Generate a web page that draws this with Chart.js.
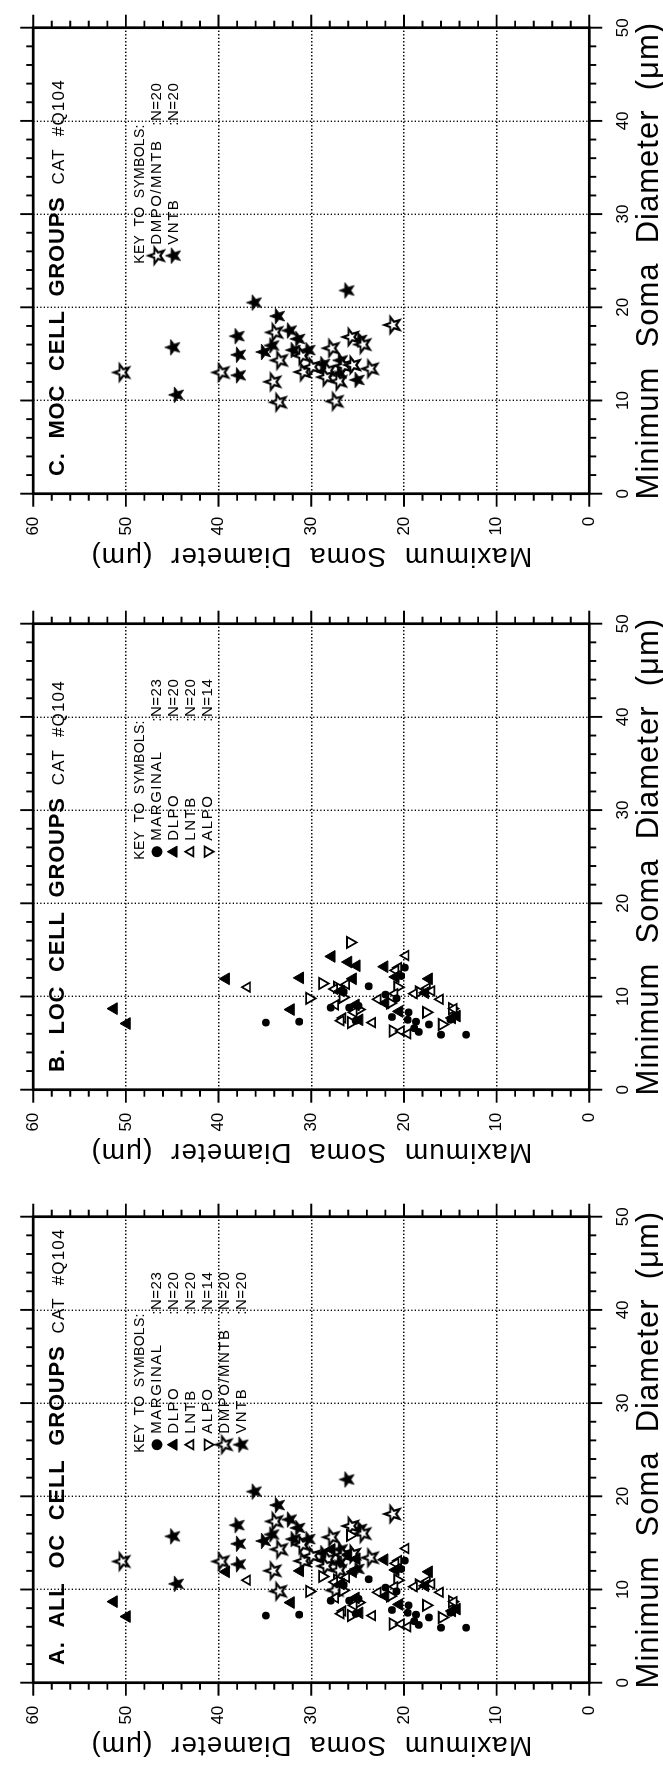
<!DOCTYPE html>
<html>
<head>
<meta charset="utf-8">
<title>OC cell groups - soma diameters</title>
<script src="https://cdn.jsdelivr.net/npm/chart.js@4.4.1/dist/chart.umd.min.js"></script>
<style>
  html, body { margin: 0; padding: 0; background: #fff; }
  body { width: 663px; height: 1766px; overflow: hidden; position: relative; }
  /* the figure is laid out landscape and turned a quarter turn, like the printed page */
  #sheet { position: absolute; left: 0; top: 0; width: 1766px; height: 663px;
           transform-origin: 0 0; transform: translateY(1766px) rotate(-90deg); background: #fff; }
  #sheet canvas { position: absolute; top: 0; }
</style>
</head>
<body>
<div id="sheet">
  <canvas id="panelA" width="592" height="663" style="left:0px"></canvas>
  <canvas id="panelB" width="592" height="663" style="left:593px"></canvas>
  <canvas id="panelC" width="592" height="663" style="left:1189px"></canvas>
</div>
<script>
// Soma diameters in um: *_MIN = minimum diameter (x), *_MAX = maximum diameter (y)
const MARGINAL_MIN = [7.2, 7.3, 8.8, 8.8, 11.1, 13.1, 7.8, 7.5, 7.3, 6.6, 6.2, 7.0, 5.9, 5.9, 7.5, 9.8, 9.0, 10.5, 12.2, 8.3, 10.2, 7.9, 7.4];
const MARGINAL_MAX = [34.9, 31.3, 27.9, 25.9, 23.8, 19.9, 21.3, 19.6, 18.7, 18.9, 18.4, 17.3, 16.0, 13.3, 15.0, 20.8, 24.9, 26.5, 20.3, 19.5, 22.0, 14.5, 25.2];

const DLPO_MIN = [8.7, 7.1, 11.9, 8.6, 12.0, 14.3, 13.7, 13.3, 11.9, 7.5, 13.2, 12.1, 11.9, 10.4, 7.9, 8.4, 9.1, 10.6, 9.3, 7.7];
const DLPO_MAX = [51.3, 49.9, 39.2, 32.2, 31.2, 27.8, 26.0, 25.1, 25.5, 24.8, 22.1, 20.9, 17.3, 17.7, 14.3, 20.5, 25.2, 26.8, 22.0, 14.8];

const LNTB_MIN = [11.0, 14.4, 13.1, 10.3, 9.7, 7.7, 7.2, 6.3, 9.1, 10.8, 11.3, 8.3, 10.3, 12.8, 10.9, 8.7, 6.0, 9.7, 10.6, 7.4];
const LNTB_MAX = [36.9, 19.8, 20.6, 18.9, 16.1, 26.6, 23.4, 20.3, 27.4, 27.5, 26.2, 25.4, 21.0, 20.9, 17.5, 14.6, 19.6, 22.8, 17.0, 26.8];

const ALPO_MIN = [11.4, 15.8, 9.8, 8.3, 8.7, 7.0, 6.3, 7.2, 11.0, 9.3, 11.0, 9.9, 10.5, 8.6];
const ALPO_MAX = [28.8, 25.8, 30.2, 17.6, 14.8, 15.9, 21.2, 25.7, 27.2, 21.5, 20.7, 26.6, 18.4, 24.9];

const DMPO_MIN = [13.0, 13.0, 17.3, 14.3, 12.0, 9.8, 13.05, 13.6, 15.6, 12.05, 13.7, 13.8, 9.9, 13.4, 16.8, 18.1, 16.0, 13.2, 14.8, 12.5];
const DMPO_MAX = [50.4, 39.7, 33.9, 33.4, 34.1, 33.5, 30.85, 29.9, 27.8, 27.0, 26.5, 25.5, 27.4, 23.6, 25.7, 21.2, 24.4, 28.2, 31.0, 28.4];

const VNTB_MIN = [15.7, 10.6, 16.9, 14.9, 12.7, 20.5, 19.05, 17.5, 16.6, 15.9, 15.2, 15.4, 15.4, 13.9, 13.05, 14.3, 12.9, 12.2, 16.5, 21.8];
const VNTB_MAX = [44.9, 44.5, 37.95, 37.8, 37.8, 36.1, 33.6, 32.3, 31.4, 34.2, 35.1, 31.9, 30.3, 28.7, 28.5, 26.8, 26.9, 25.0, 24.7, 26.1];

// axis ranges and tick spacing
const MIN_AXIS = [0, 50];
const MAX_AXIS = [0, 60];
const MAJOR_STEP = 10;
const MINOR_STEP = 2;

const FONT = '"Liberation Sans", Arial, sans-serif';

// five pointed stars are not a built-in point style, so draw them once into small canvases
function makeStar(filled) {
    const c = document.createElement('canvas');
    c.width = c.height = 26;
    const g = c.getContext('2d');
    const R = 8.3, r = 3.4;
    g.beginPath();
    for (let i = 0; i < 10; i++) {
        const rad = i % 2 ? r : R;
        const ang = -Math.PI / 2 + i * Math.PI / 5;
        g.lineTo(13 + rad * Math.cos(ang), 13 + rad * Math.sin(ang));
    }
    g.closePath();
    if (filled) {
        g.fillStyle = '#000';
        g.fill();
        g.lineWidth = 0.8;
        g.stroke();
    } else {
        g.fillStyle = '#fff';
        g.fill();
        g.lineWidth = 2.2;
        g.strokeStyle = '#000';
        g.stroke();
    }
    return c;
}
const OPEN_STAR = makeStar(false);
const FILLED_STAR = makeStar(true);

const GROUPS = {
    marginal: { label: 'MARGINAL', xs: MARGINAL_MIN, ys: MARGINAL_MAX, style: 'circle', radius: 3.9, legendRadius: 5.5, fill: '#000', bw: 0, rot: 0 },
    dlpo: { label: 'DLPO', xs: DLPO_MIN, ys: DLPO_MAX, style: 'triangle', radius: 6.8, legendRadius: 6.5, fill: '#000', bw: 1, rot: 0 },
    lntb: { label: 'LNTB', xs: LNTB_MIN, ys: LNTB_MAX, style: 'triangle', radius: 5.4, legendRadius: 5.5, fill: '#fff', bw: 1.7, rot: 0 },
    alpo: { label: 'ALPO', xs: ALPO_MIN, ys: ALPO_MAX, style: 'triangle', radius: 6.4, legendRadius: 6, fill: '#fff', bw: 1.8, rot: 180 },
    dmpo: { label: 'DMPO/MNTB', xs: DMPO_MIN, ys: DMPO_MAX, style: OPEN_STAR, radius: 8, legendRadius: 8, fill: '#fff', bw: 0, rot: 0 },
    vntb: { label: 'VNTB', xs: VNTB_MIN, ys: VNTB_MAX, style: FILLED_STAR, radius: 8, legendRadius: 8, fill: '#000', bw: 0, rot: 0 }
};

// plot box inside each panel canvas (pixels)
const BOX = { left: 83.3, top: 26.7, right: 549.3, bottom: 589.3 };

function drawText(ctx, str, x, y, font, spacing, align, baseline) {
    ctx.font = font;
    ctx.letterSpacing = spacing || '0px';
    ctx.textAlign = align || 'left';
    ctx.textBaseline = baseline || 'alphabetic';
    ctx.fillText(str, x, y);
    return ctx.measureText(str).width;
}

// frame, outward tick marks, titles and symbol key
const ocDecor = {
    id: 'ocDecor',
    afterDraw(chart, args, opts) {
        const ctx = chart.ctx;
        const a = chart.chartArea;
        const xs = chart.scales.x, ys = chart.scales.y;
        ctx.save();
        ctx.strokeStyle = '#000';
        ctx.fillStyle = '#000';

        ctx.lineWidth = 1.9;
        ctx.beginPath();
        for (let v = MIN_AXIS[0]; v <= MIN_AXIS[1]; v += MINOR_STEP) {
            const px = xs.getPixelForValue(v);
            const len = v % MAJOR_STEP === 0 ? 13 : 7;
            ctx.moveTo(px, a.top); ctx.lineTo(px, a.top - len);
            ctx.moveTo(px, a.bottom); ctx.lineTo(px, a.bottom + len);
        }
        for (let v = MAX_AXIS[0]; v <= MAX_AXIS[1]; v += MINOR_STEP) {
            const py = ys.getPixelForValue(v);
            const len = v % MAJOR_STEP === 0 ? 13 : 7;
            ctx.moveTo(a.left, py); ctx.lineTo(a.left - len, py);
            ctx.moveTo(a.right, py); ctx.lineTo(a.right + len, py);
        }
        ctx.stroke();
        ctx.lineWidth = 2.7;
        ctx.strokeRect(a.left, a.top, a.right - a.left, a.bottom - a.top);

        // axis titles
        drawText(ctx, 'Minimum  Soma  Diameter  (\u03bcm)', (a.left + a.right) / 2, a.bottom + 60, '31px ' + FONT, '1px', 'center', 'middle');
        ctx.save();
        ctx.translate(a.left - 62, (a.top + a.bottom) / 2);
        ctx.rotate(-Math.PI / 2);
        drawText(ctx, 'Maximum  Soma  Diameter  (\u03bcm)', 0, 0, '28px ' + FONT, '1px', 'center', 'middle');
        ctx.restore();

        // panel title
        const tx = a.left + 17.7, ty = a.top + 31;
        const tw = drawText(ctx, opts.title, tx, ty, 'bold 22px ' + FONT, '0.8px');
        drawText(ctx, 'CAT  #Q104', tx + tw + 12, ty, '17px ' + FONT, '1.2px');

        // key to symbols
        const keyY = a.top + 106.8, rowH = 16.9;
        drawText(ctx, 'KEY  TO  SYMBOLS:', a.left + 230, keyY, '14px ' + FONT, '0.3px', 'left', 'middle');
        opts.groups.forEach((k, i) => {
            const g = GROUPS[k];
            const y = keyY + rowH * (i + 1);
            ctx.save();
            ctx.fillStyle = g.fill;
            ctx.strokeStyle = '#000';
            ctx.lineWidth = g.bw;
            Chart.helpers.drawPoint(ctx, { pointStyle: g.style, radius: g.legendRadius, rotation: g.rot, borderWidth: g.bw }, a.left + 238, y);
            ctx.restore();
            drawText(ctx, g.label, a.left + 249, y, '15px ' + FONT, '1.5px', 'left', 'middle');
            drawText(ctx, ':N=' + g.xs.length, a.left + 368, y, '15px ' + FONT, '0.5px', 'left', 'middle');
        });
        ctx.restore();
    }
};

function makePanel(id, title, groupKeys) {
    const canvas = document.getElementById(id);
    const W = canvas.width, H = canvas.height;
    const datasets = groupKeys.map(k => {
        const g = GROUPS[k];
        return {
            label: g.label,
            data: g.xs.map((x, i) => ({ x: x, y: g.ys[i] })),
            pointStyle: g.style,
            pointRadius: g.radius,
            pointRotation: g.rot,
            pointBackgroundColor: g.fill,
            pointBorderColor: '#000',
            pointBorderWidth: g.bw,
            showLine: false
        };
    });
    const hideEdge = (lo, hi) => c => (c.tick && (c.tick.value === lo || c.tick.value === hi)) ? 'rgba(0,0,0,0)' : '#000';
    return new Chart(canvas.getContext('2d'), {
        type: 'scatter',
        data: { datasets: datasets },
        options: {
            responsive: false,
            animation: false,
            events: [],
            layout: { padding: { left: 0, top: BOX.top, right: W - BOX.right, bottom: 0 } },
            plugins: {
                legend: { display: false },
                tooltip: { enabled: false },
                ocDecor: { title: title, groups: groupKeys }
            },
            scales: {
                x: {
                    type: 'linear', min: MIN_AXIS[0], max: MIN_AXIS[1],
                    ticks: { stepSize: MAJOR_STEP, color: '#000', padding: 24, font: { family: FONT, size: 17 } },
                    grid: { color: hideEdge(MIN_AXIS[0], MIN_AXIS[1]), lineWidth: 1.4, drawTicks: false },
                    border: { display: false, dash: [1.4, 2.1] },
                    afterFit: s => { s.height = H - BOX.bottom; }
                },
                y: {
                    type: 'linear', min: MAX_AXIS[0], max: MAX_AXIS[1],
                    ticks: { stepSize: MAJOR_STEP, color: '#000', padding: 23, font: { family: FONT, size: 17 } },
                    grid: { color: hideEdge(MAX_AXIS[0], MAX_AXIS[1]), lineWidth: 1.4, drawTicks: false },
                    border: { display: false, dash: [1.4, 2.1] },
                    afterFit: s => { s.width = BOX.left; }
                }
            }
        },
        plugins: [ocDecor]
    });
}

makePanel('panelA', 'A.  ALL  OC  CELL  GROUPS', ['marginal', 'dlpo', 'lntb', 'alpo', 'dmpo', 'vntb']);
makePanel('panelB', 'B.  LOC  CELL  GROUPS', ['marginal', 'dlpo', 'lntb', 'alpo']);
makePanel('panelC', 'C.  MOC  CELL  GROUPS', ['dmpo', 'vntb']);
</script>
</body>
</html>
